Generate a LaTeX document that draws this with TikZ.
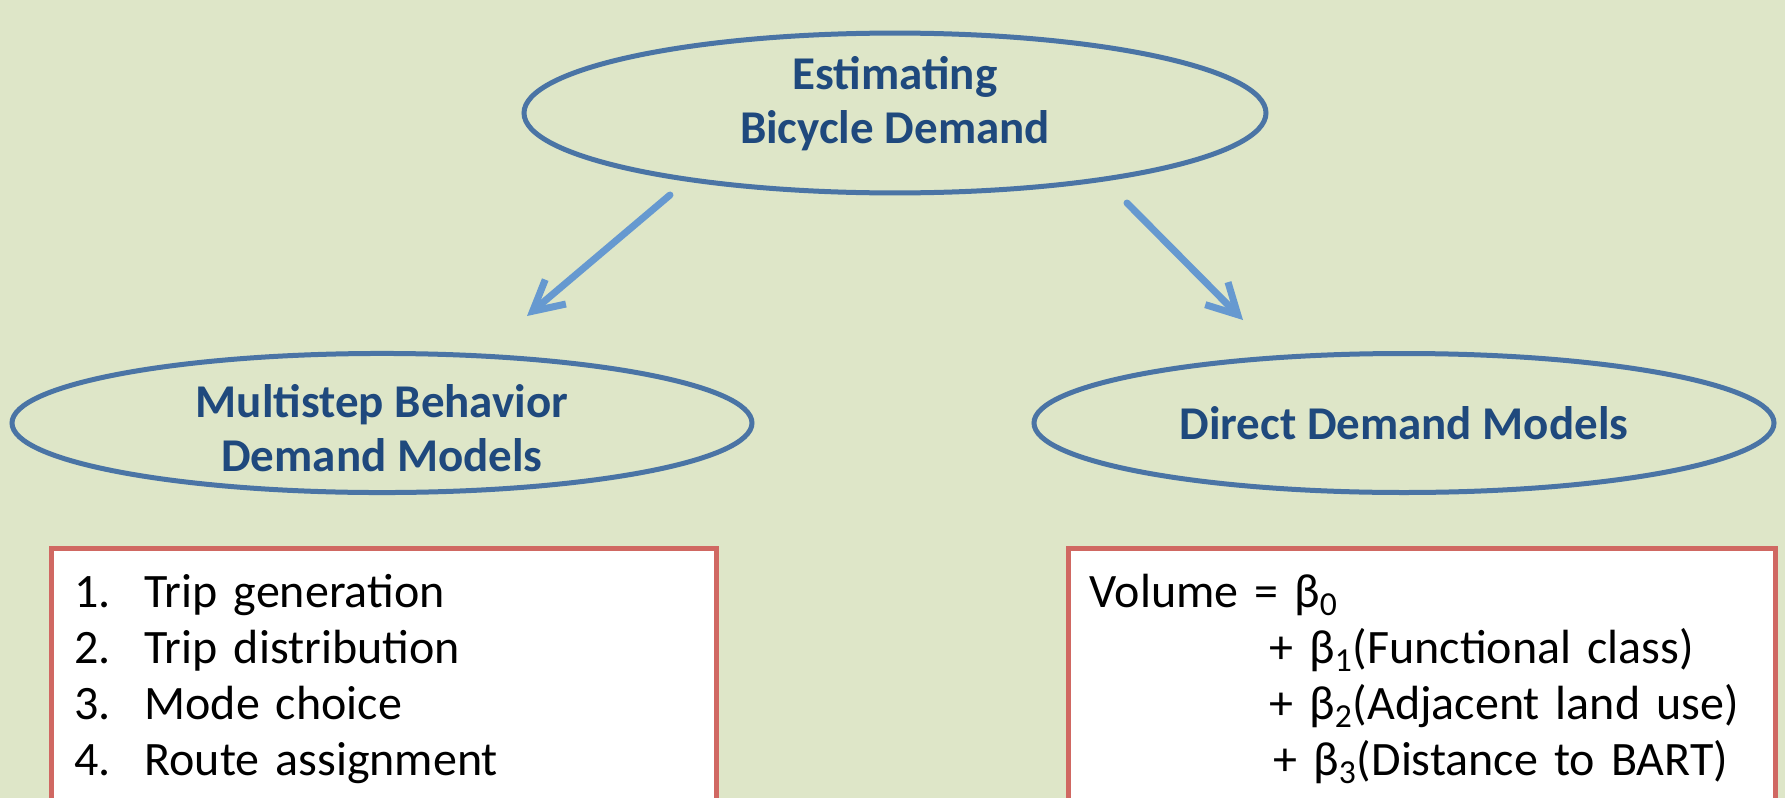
\documentclass[tikz,border=0pt]{standalone}
\usepackage{fontspec}
\setmainfont{Carlito}
\usetikzlibrary{arrows.meta,shapes.geometric}
\definecolor{paleolive}{RGB}{222,230,200}
\definecolor{ovalblue}{RGB}{74,116,165}
\definecolor{titleblue}{RGB}{31,73,125}
\definecolor{arrowblue}{RGB}{102,153,208}
\definecolor{boxred}{RGB}{208,104,98}

\begin{document}
\begin{tikzpicture}[x=0.5pt,y=-0.5pt,
oval/.style={ellipse,draw=ovalblue,line width=2.5pt,inner sep=0pt,align=center,text=titleblue,font=\fontsize{23.5}{27}\selectfont\bfseries},
listbox/.style={draw=boxred,fill=white,line width=2.5pt,anchor=north west,align=left,inner ysep=13pt,font=\fontsize{24}{28}\selectfont},
arr/.style={-{Straight Barb[length=15pt,width=16pt]},line width=3.5pt,arrowblue,line cap=round}
]
\fill[paleolive] (0,0) rectangle (1785,798);
\clip (0,0) rectangle (1785,798);

% ovals
\node[oval,minimum width=371pt,minimum height=64.5pt] (estim) at (895,113) {Estimating\\Bicycle Demand\rule[-13pt]{0pt}{13pt}};
\node[oval,minimum width=370pt,minimum height=69.5pt] (multi) at (382,423) {\rule{0pt}{22pt}Multistep Behavior\\Demand Models};
\node[oval,minimum width=370pt,minimum height=69.5pt] (direct) at (1404,423) {Direct Demand Models};

% boxes
\node[listbox,inner xsep=11.5pt,text width=309.5pt] (steps) at (49,546)
  {\makebox[35pt][l]{1.}Trip generation\\
   \makebox[35pt][l]{2.}Trip distribution\\
   \makebox[35pt][l]{3.}Mode choice\\
   \makebox[35pt][l]{4.}Route assignment};
\node[listbox,inner xsep=10.5pt,text width=332.5pt] (volume) at (1066,546)
  {Volume = β\textsubscript{0}\\
   \hspace*{90pt}+ β\textsubscript{1}(Functional class)\\
   \hspace*{90pt}+ β\textsubscript{2}(Adjacent land use)\\
   \hspace*{92pt}+ β\textsubscript{3}(Distance to BART)};

% arrows
\coordinate (lstart) at (670,195);
\coordinate (lend) at (527,316);
\coordinate (rstart) at (1127,203);
\coordinate (rend) at (1243,320);
\draw[arr] (lstart) -- (lend);
\draw[arr] (rstart) -- (rend);
\end{tikzpicture}
\end{document}
